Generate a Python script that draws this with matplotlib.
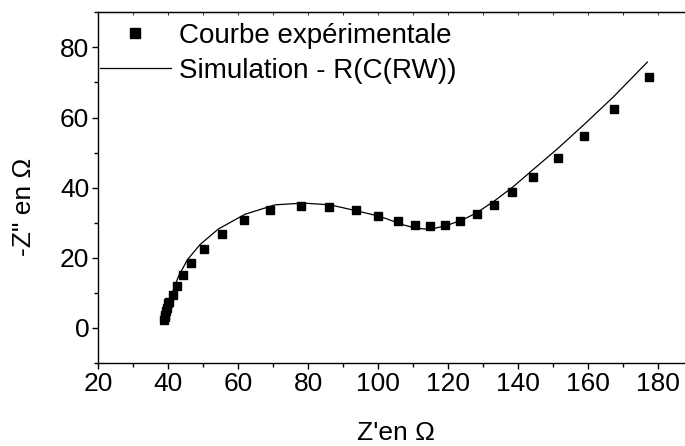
import matplotlib
matplotlib.use('Agg')
import matplotlib.pyplot as plt
from matplotlib.ticker import MultipleLocator

plt.rcParams['font.family'] = ['Liberation Sans', 'DejaVu Sans']

# Points experimentaux (Z' , -Z'')
z_re_exp = [38.8, 39.0, 39.1, 39.3, 39.5, 39.8, 40.3, 41.3, 42.4, 44.2, 46.6, 50.3,
            55.3, 61.6, 69.0, 77.8, 86.0, 93.6, 100.0, 105.7, 110.5, 114.9, 119.1,
            123.3, 128.2, 133.1, 138.3, 144.3, 151.3, 158.8, 167.5, 177.3]
z_im_exp = [2.2, 3.0, 3.8, 4.8, 5.8, 7.0, 7.3, 9.4, 11.9, 15.1, 18.6, 22.6,
            26.9, 30.7, 33.6, 34.8, 34.6, 33.5, 31.9, 30.4, 29.3, 29.0, 29.4,
            30.4, 32.4, 35.1, 38.7, 43.0, 48.4, 54.8, 62.5, 71.5]

# Courbe simulee R(C(RW))
z_re_sim = [38.7, 39.5, 40.5, 41.5, 42.9, 45.5, 49.1, 54.3, 61.9, 70.5, 78.6, 86.2,
            93.8, 100.5, 107.1, 111.0, 114.8, 119.5, 124.0, 128.1, 133.3, 138.6,
            144.3, 151.0, 158.6, 167.1, 176.9]
z_im_sim = [1.5, 4.5, 8.0, 11.0, 14.7, 19.5, 23.8, 28.2, 32.4, 35.1, 35.6, 35.1,
            33.4, 31.8, 29.4, 28.4, 28.1, 29.2, 30.8, 32.8, 36.3, 40.3,
            45.2, 50.9, 57.8, 65.8, 75.8]

fig = plt.figure(figsize=(6.85, 4.46), dpi=100)
ax = fig.add_axes([0.1435, 0.1861, 1.012 - 0.1435, 0.9724 - 0.1861])

ax.plot(z_re_exp, z_im_exp, linestyle='none', marker='s', markersize=5.5,
        color='black', label='Courbe expérimentale')
ax.plot(z_re_sim, z_im_sim, color='black', linewidth=0.9,
        label='Simulation - R(C(RW))')

ax.set_xlim(20, 190)
ax.set_ylim(-10, 90)
ax.xaxis.set_major_locator(MultipleLocator(20))
ax.xaxis.set_minor_locator(MultipleLocator(10))
ax.yaxis.set_major_locator(MultipleLocator(20))
ax.yaxis.set_minor_locator(MultipleLocator(10))

ax.tick_params(axis='both', which='major', direction='out', length=4.5, width=1,
               labelsize=19, pad=2)
ax.tick_params(axis='both', which='minor', direction='out', length=2.7, width=1)
ax.spines['right'].set_visible(False)
for s in ['left', 'bottom', 'top']:
    ax.spines[s].set_linewidth(1)

# petites graduations interieures sur l'axe du haut
top = ax.secondary_xaxis('top')
top.xaxis.set_major_locator(MultipleLocator(10))
top.tick_params(direction='in', length=2, width=0.6, labeltop=False)

ax.set_xlabel("Z'en Ω", fontsize=19, labelpad=18)
ax.set_ylabel('-Z" en Ω', fontsize=19)
ax.yaxis.set_label_coords(-0.105, 0.445)

ax.legend(loc='upper left', bbox_to_anchor=(0.003, 0.97), frameon=False, fontsize=20,
          handlelength=2.55, handletextpad=0.3, labelspacing=0.32, borderpad=0.0,
          borderaxespad=0.0, markerscale=1.3)

plt.savefig('out.png', dpi=100)
